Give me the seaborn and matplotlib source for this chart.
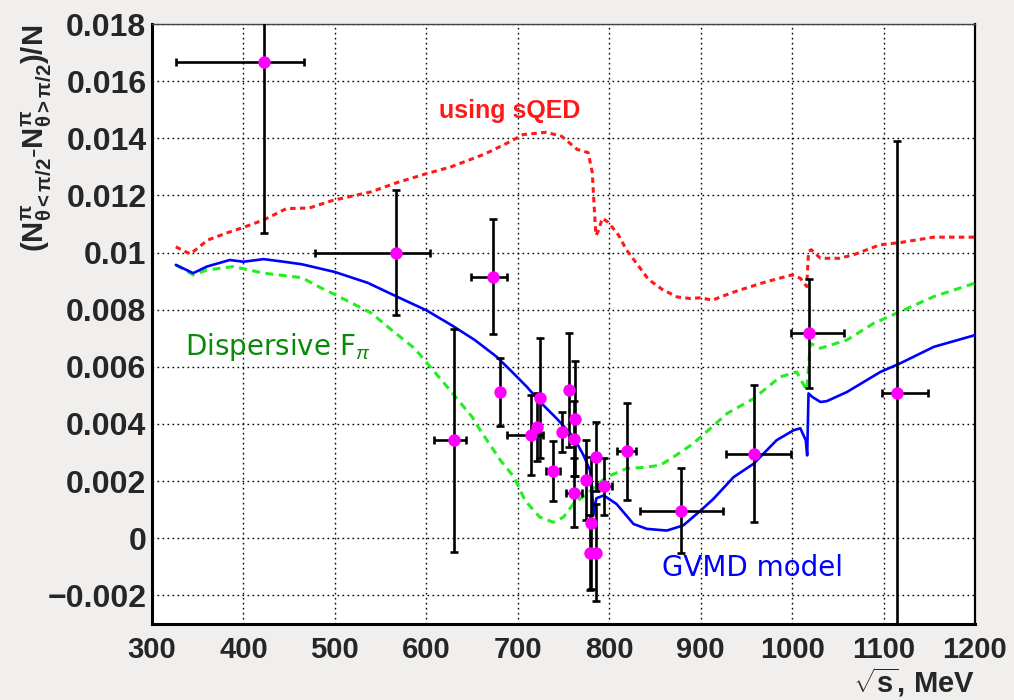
import numpy as np
import matplotlib
matplotlib.use("Agg")
import matplotlib.pyplot as plt
import seaborn as sns
from matplotlib.ticker import FixedLocator, MultipleLocator, FixedFormatter

# --- model curves: charge asymmetry vs sqrt(s) ---
sqed_x = [326, 342, 361, 383, 399, 422, 447, 472, 497, 539, 568, 600, 627, 664, 689, 706, 731,
          748, 765, 777, 781.5, 783.5, 785.5, 788, 792.5, 799, 810, 819, 830, 843, 858, 874, 889,
          900, 913, 922, 940, 972, 1000, 1009, 1016, 1018, 1021, 1031, 1052, 1067, 1096, 1118,
          1155, 1200]
sqed_y = [0.0102, 0.00995, 0.01044, 0.0107, 0.01087, 0.01114, 0.01154, 0.01156, 0.01182, 0.01212,
          0.01245, 0.01276, 0.0130, 0.01345, 0.01384, 0.01413, 0.01421, 0.01407, 0.01361, 0.0135,
          0.0128, 0.01165, 0.0106, 0.01075, 0.0112, 0.01106, 0.01062, 0.01009, 0.00962, 0.00906,
          0.00871, 0.00845, 0.00839, 0.00842, 0.00833, 0.00845, 0.00866, 0.00898, 0.00922, 0.0091,
          0.00881, 0.01004, 0.0101, 0.0098, 0.0098, 0.00992, 0.01027, 0.01035, 0.01054, 0.01054]

disp_x = [326, 345, 360, 389, 422, 464, 485, 500, 518, 540, 562, 587, 598, 626, 650, 659, 681, 696,
          708, 724, 739, 750, 761, 776, 786, 797, 819, 841, 856, 870, 889, 900, 929, 958, 987,
          1005, 1016, 1020, 1031, 1060, 1089, 1118, 1155, 1200]
disp_y = [0.00957, 0.00922, 0.00939, 0.00951, 0.00928, 0.00912, 0.00876, 0.00853, 0.00824, 0.00788,
          0.00729, 0.00665, 0.00624, 0.00518, 0.00425, 0.00378, 0.00273, 0.00214, 0.00132, 0.00074,
          0.00056, 0.00074, 0.00121, 0.00156, 0.00185, 0.00214, 0.00244, 0.00249, 0.00256, 0.00284,
          0.00325, 0.00354, 0.00437, 0.00489, 0.00565, 0.00582, 0.00518, 0.00682, 0.00665, 0.00694,
          0.00752, 0.00793, 0.00846, 0.00893]

gvmd_x = [326, 345, 360, 385, 400, 422, 444, 464, 500, 536, 567, 600, 627, 653, 677, 692, 710,
          724.5, 742.6, 761, 772, 779, 781, 783, 786, 794, 808, 826.6, 841, 863, 881, 900, 914,
          936, 958, 983, 1001.6, 1009, 1015, 1016.5, 1018, 1022, 1031, 1038, 1060, 1096.5, 1118,
          1155, 1200]
gvmd_y = [0.00957, 0.00928, 0.00951, 0.00974, 0.00968, 0.00977, 0.00968, 0.00959, 0.00932, 0.00894,
          0.00847, 0.00798, 0.00747, 0.00694, 0.00635, 0.00588, 0.0053, 0.00477, 0.00419, 0.00354,
          0.0029, 0.00238, 0.0018, 0.00086, 0.0014, 0.0015, 0.0012, 0.0005, 0.00033, 0.00027,
          0.00045, 0.00097, 0.00138, 0.00214, 0.00261, 0.00343, 0.00378, 0.00385, 0.00343, 0.0029,
          0.00507, 0.00495, 0.00477, 0.0048, 0.00512, 0.00582, 0.00612, 0.0067, 0.00711]

# --- measured points with asymmetric errors ---
pt_x = [422, 567, 630, 673, 681, 714, 720.5, 724, 738.6, 748.7, 756, 763, 762, 761.4, 774.7,
        785.5, 780, 779, 786, 794.6, 819, 879, 958, 1018, 1115]
pt_y = [0.01668, 0.0100, 0.00343, 0.00916, 0.00512, 0.0036, 0.0039, 0.0049, 0.00234, 0.00371,
        0.00518, 0.00419, 0.00349, 0.0016, 0.00203, 0.00286, 0.00053, -0.0005, -0.0005, 0.00182,
        0.00305, 0.00097, 0.00296, 0.00717, 0.00509]
pt_xlo = [96, 89, 22, 24, 0, 26, 3, 0, 8, 3, 0, 0, 0, 9, 0, 0, 0, 0, 0, 8, 10, 45, 30, 19, 17]
pt_xhi = [44, 37, 13, 15, 0, 14, 3, 0, 8, 3, 0, 0, 0, 9, 0, 0, 0, 0, 0, 8, 10, 45, 41, 39, 34]
pt_yerr = [0.006, 0.0022, 0.0039, 0.002, 0.0012, 0.0014, 0.0012, 0.0021, 0.00105, 0.0007,
           0.002, 0.002, 0.0013, 0.0012, 0.0014, 0.0012, 0.0023, 0.0013, 0.0017, 0.001,
           0.0017, 0.0015, 0.0024, 0.0019, 0.0088]

xticks = [300, 400, 500, 600, 700, 800, 900, 1000, 1100, 1200]
yticks = [-0.002, 0.0, 0.002, 0.004, 0.006, 0.008, 0.010, 0.012, 0.014, 0.016, 0.018]
ytick_labels = ["\u22120.002", "0", "0.002", "0.004", "0.006", "0.008", "0.01",
                "0.012", "0.014", "0.016", "0.018"]

sns.set_theme(style="white")
plt.rcParams["font.family"] = ["Liberation Sans", "DejaVu Sans"]
plt.rcParams["mathtext.fontset"] = "custom"
plt.rcParams["mathtext.rm"] = "Liberation Sans"
plt.rcParams["mathtext.bf"] = "Liberation Sans:bold"
plt.rcParams["mathtext.it"] = "Liberation Sans:italic"

fig = plt.figure(figsize=(10.14, 7.0), dpi=100, facecolor="#f1efed")
ax = fig.add_axes([0.1499, 0.1086, 0.8116, 0.8571])
ax.set_facecolor("white")

# curves
sns.lineplot(x=sqed_x, y=sqed_y, ax=ax, color="#ff1a1a", linewidth=2.2,
             sort=False, estimator=None, zorder=3)
ax.lines[-1].set_linestyle((0, (1.8, 1.4)))
sns.lineplot(x=disp_x, y=disp_y, ax=ax, color="#22ee22", linewidth=2.2,
             sort=False, estimator=None, zorder=3)
ax.lines[-1].set_linestyle((0, (2.6, 1.8)))
sns.lineplot(x=gvmd_x, y=gvmd_y, ax=ax, color="#0000ff", linewidth=1.9,
             sort=False, estimator=None, zorder=3)

# data points
ax.errorbar(pt_x, pt_y, xerr=[pt_xlo, pt_xhi], yerr=[pt_yerr, pt_yerr], fmt="none",
            ecolor="black", elinewidth=1.9, capsize=3.2, capthick=1.9, zorder=4)
sns.scatterplot(x=pt_x, y=pt_y, ax=ax, color="#ff00ff", edgecolor="#ff00ff",
                s=80, linewidth=0, zorder=5)

ax.set_xlim(300, 1200)
ax.set_ylim(-0.003, 0.018)

ax.xaxis.set_major_locator(FixedLocator(xticks))
ax.xaxis.set_minor_locator(MultipleLocator(20))
ax.yaxis.set_major_locator(FixedLocator(yticks))
ax.yaxis.set_major_formatter(FixedFormatter(ytick_labels))
ax.yaxis.set_minor_locator(MultipleLocator(0.0005))

ax.tick_params(axis="both", which="both", direction="in", top=False, right=False,
               width=2.0, color="black")
ax.tick_params(axis="y", which="major", length=19, labelsize=23, pad=4)
ax.tick_params(axis="y", which="minor", length=10)
ax.tick_params(axis="x", which="major", length=13, labelsize=21, pad=9)
ax.tick_params(axis="x", which="minor", length=5.5)
for lab in ax.get_xticklabels() + ax.get_yticklabels():
    lab.set_fontweight("bold")

ax.grid(True, which="major", color="black", linestyle=(0, (1.2, 2.4)), linewidth=1.0)
ax.set_axisbelow(True)

for side in ["left", "bottom"]:
    ax.spines[side].set_linewidth(2.2)
    ax.spines[side].set_color("black")
ax.spines["right"].set_linewidth(1.6)
ax.spines["right"].set_color("black")
ax.spines["top"].set_linewidth(1.0)
ax.spines["top"].set_color("#444444")

ax.set_xlabel("")
ax.set_ylabel("")

# axis titles
fig.text(0.036, 0.964,
         r"$\mathbf{(N^{\pi}_{\theta<\pi/2}\text{-}N^{\pi}_{\theta>\pi/2})/N}$",
         rotation=90, ha="center", va="top", fontsize=21, fontweight="bold")
ax.text(1.0, -0.115, r"$\mathbf{\sqrt{s}}$, MeV", transform=ax.transAxes,
        ha="right", va="baseline", fontsize=21, fontweight="bold")

# curve labels
ax.text(614, 0.01471, "using sQED", color="#ff1a1a", fontsize=18, fontweight="bold",
        ha="left", va="baseline")
ax.text(336, 0.00641, r"Dispersive F$_{\pi}$", color="#0a8a0a", fontsize=20,
        family="DejaVu Sans", ha="left", va="baseline")
ax.text(858, -0.00131, "GVMD model", color="#0000ff", fontsize=20,
        family="DejaVu Sans", ha="left", va="baseline")

fig.savefig("out.png", dpi=100, facecolor=fig.get_facecolor())
